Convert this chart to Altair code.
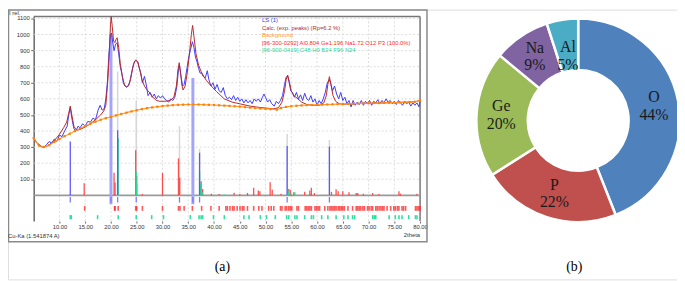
import altair as alt
import pandas as pd

# ---------------- XRD pattern (panel a) ----------------
obs_t = [5.0,5.5,6.0,6.5,7.0,7.5,8.0,8.5,9.0,9.5,10.0,10.5,11.0,11.5,11.8,12.1,12.4,12.8,13.2,13.6,
         14.0,14.5,15.0,15.5,16.0,16.5,17.0,17.5,17.9,18.3,18.7,19.0,19.3,19.6,19.9,20.1,20.3,20.6,20.9,21.2,
         21.5,21.8,22.1,22.4,22.7,23.0,23.3,23.6,24.0,24.4,24.8,25.2,25.5,25.8,26.1,26.5,26.9,27.2,27.6,28.0,
         28.4,28.8,29.2,29.6,30.0,30.4,30.8,31.2,31.6,32.0,32.4,32.8,33.1,33.3,33.6,33.9,34.2,34.5,34.8,35.1,
         35.4,35.8,36.1,36.4,36.7,37.0,37.3,37.6,37.9,38.3,38.7,39.0,39.4,39.8,40.2,40.6,41.0,41.4,41.8,42.2,
         42.6,43.0,43.4,43.8,44.2,44.6,45.0,45.4,45.8,46.2,46.6,47.0,47.4,47.8,48.2,48.6,49.0,49.4,49.7,50.0,
         50.4,50.8,51.2,51.7,52.1,52.5,52.9,53.3,53.7,54.0,54.3,54.6,54.9,55.2,55.6,56.0,56.4,56.8,57.2,57.6,
         58.0,58.4,58.8,59.2,59.6,60.0,60.4,60.8,61.2,61.6,62.0,62.4,62.7,63.0,63.4,63.8,64.2,64.6,65.0,65.4,
         65.8,66.2,66.6,67.0,67.4,67.8,68.2,68.6,69.0,69.4,69.8,70.2,70.6,71.0,71.4,71.8,72.2,72.6,73.0,73.4,
         73.8,74.2,74.6,75.0,75.4,75.8,76.2,76.6,77.0,77.4,77.8,78.2,78.6,79.0,79.4,79.8,80.0]
obs_i = [363,330,318,305,300,315,335,325,350,335,375,365,400,430,500,545,480,415,400,430,
         420,445,430,460,455,480,470,530,560,530,540,600,700,880,1000,1010,960,900,940,950,
         880,800,760,700,680,675,680,700,760,820,840,830,790,760,700,740,680,620,640,610,
         630,600,620,605,620,600,590,580,600,590,610,680,780,810,740,680,690,740,800,860,
         900,955,920,860,830,790,760,760,740,730,775,720,680,700,660,690,650,640,670,620,
         600,610,595,620,590,610,585,600,575,595,575,590,570,600,585,600,580,610,630,610,
         580,595,570,555,585,570,590,620,690,735,740,700,650,640,610,640,600,625,590,635,
         600,590,620,580,600,560,590,570,600,640,700,720,690,650,680,630,600,640,590,610,
         570,590,550,590,560,580,565,590,560,585,570,590,560,585,575,595,570,590,575,600,
         580,590,570,585,565,590,575,560,585,570,580,555,575,560,575,550,590]

calc_t = [5.0,5.5,6.0,6.5,7.0,7.5,8.0,9.0,10.0,10.8,11.4,11.8,12.1,12.4,12.8,13.3,14.0,15.0,16.0,17.0,
          18.0,18.6,19.0,19.4,19.7,19.9,20.05,20.25,20.5,20.75,21.0,21.2,21.5,21.8,22.2,22.6,23.0,23.4,23.8,24.2,
          24.6,24.9,25.2,25.6,26.0,26.5,27.0,27.5,28.0,28.8,29.5,30.5,31.5,32.2,32.7,33.0,33.25,33.5,33.8,34.0,
          34.4,34.8,35.2,35.6,35.85,36.1,36.5,37.0,37.5,38.0,38.5,39.4,40.5,42.0,43.5,45.2,47.0,48.5,50.0,51.5,
          52.5,53.2,53.7,54.0,54.3,54.6,55.0,55.5,56.1,57.0,58.0,59.0,60.5,61.3,61.8,62.1,62.4,62.7,63.1,63.6,
          64.3,65.0,66.0,68.0,70.0,72.0,74.0,76.0,78.0,79.0,80.0]
calc_i = [356,330,312,302,300,305,315,340,380,420,455,510,555,500,430,405,410,425,445,470,
          500,525,560,720,900,1060,1112,1050,960,950,970,980,920,820,740,690,672,680,720,790,
          835,842,830,780,720,680,655,640,615,590,585,585,590,610,680,780,825,760,680,655,
          680,760,870,1000,1057,990,880,810,770,740,715,682,645,600,580,568,555,548,543,538,
          545,580,650,720,748,710,650,620,605,580,565,560,560,575,620,690,738,690,620,585,
          570,566,569,571,573,574,576,578,580,582,590]

bg_t = [5,6,7,8,9,10,11,12,13,14,15,16,17,18,19,20,21,22,23,24,25,26,27,28,29,30,31,32,33,34,35,36,37,38,39,40,
        41,42,43,44,45,46,47,48,49,50,51,52.2,53,54,55,56,57,58,59,60,61,62,63,64,65,66,67,68,69,70,71,72,73,
        74,75,76,77,78,79,80]
bg_i = [356,310,301,312,332,350,368,383,400,416,431,445,458,470,480,487,497,506,514,522,529,536,542,547,551,555,
        558,561,563,564,565,565,565,564,563,562,560,558,556,554,552,549,546,543,540,538,536,533,543,550,554,557,
        559,561,562,563,564,565,566,567,568,569,570,571,572,573,574,574,575,576,577,578,579,580,582,590]

# stick patterns
ls_strong_t = [20.0, 35.9]
ls_strong_h = [1000, 730]
ls_t = [12.1, 21.3, 37.2, 54.2, 62.4]
ls_h = [335, 405, 265, 307, 303]
ls_row_t = [12.1, 20.0, 21.3, 24.9, 33.3, 35.9, 37.2, 54.2, 62.4]
peak_t = [21.3, 24.9, 33.3, 37.2, 54.2, 62.4]
peak_h = [770, 590, 430, 290, 381, 344]

red_t = [14.8,20.6,20.8,24.8,25.0,26.1,30.0,33.1,33.35,37.5,37.8,39.5,41.0,43.9,45.0,46.5,47.7,48.6,48.9,50.9,
         51.3,53.0,54.5,54.8,55.5,57.6,58.6,58.9,59.5,62.8,63.7,64.1,65.0,66.2,67.6,67.9,69.0,70.8,72.0,75.9,
         76.2,79.4]
red_h = [75,140,80,280,120,8,140,230,110,88,40,10,8,16,8,15,47,30,25,82,
         35,10,40,35,20,22,30,47,15,22,38,25,25,20,15,15,10,15,8,25,
         10,10]
green_t = [12.1, 21.4, 24.9, 25.0, 37.2, 37.4, 37.7, 42.0, 54.5, 55.0, 55.7]
green_h = [5, 355, 150, 75, 150, 75, 20, 5, 30, 10, 20]

red_row_t = [14.9,20.7,20.8,21.4,24.8,25.0,26.1,30.0,33.1,33.4,34.2,35.8,37.6,39.4,41.0,42.3,42.6,43.1,43.6,43.9,
             44.5,45.05,45.5,45.8,46.5,47.7,48.7,49.3,50.6,51.1,51.6,52.9,53.2,53.8,54.1,54.5,54.8,55.1,56.1,56.4,
             57.7,58.0,58.3,58.6,58.9,59.6,59.9,60.2,60.5,61.5,62.1,62.5,62.8,63.1,63.4,63.7,64.1,64.4,64.7,65.0,
             65.3,66.0,66.9,67.6,67.9,68.2,68.5,68.9,69.2,69.8,70.1,70.5,70.8,71.4,71.7,72.05,72.4,72.7,73.0,73.6,
             74.3,74.9,75.2,75.6,75.9,76.5,76.8,77.2,79.1,79.4,79.7,80.0]
green_row_t = [12.1,12.3,17.4,21.4,24.9,27.9,30.2,35.4,37.1,37.5,37.8,39.9,42.0,45.8,46.8,49.0,50.2,51.9,54.1,54.5,
               55.7,56.1,57.6,58.9,59.3,60.9,62.1,63.7,65.2,66.0,66.9,67.3,70.8,71.1,71.4,74.0,75.2,75.9,76.5,77.8,
               79.1,79.4]

ROW_LS = (-10, -45)
ROW_RED = (-66, -96)
ROW_GREEN = (-123, -148)
grid_x = [10,15,20,25,30,35,40,45,50,55,60,65,70,75]
grid_y = [100,200,300,400,500,600,700,800,900,1000,1100]
x_ticks = [10,15,20,25,30,35,40,45,50,55,60,65,70,75,80]
X_DOM = [5, 80]
Y_DOM = [-160, 1112]

legend_lines = [
    ("LS (1)", "#3b3bff"),
    ("Calc. (exp. peaks) (Rp=6.2 %)", "#b02a2a"),
    ("Background", "#ff9a2e"),
    ("[96-300-0292] Al0.804 Ge1.196 Na1.72 O12 P3  (100.0%)", "#ff2a2a"),
    ("[96-900-0419] C48 H0 B24 F96 N24", "#2ed89a"),
]

# ---------------- Composition donut (panel b) ----------------
elements = ["O", "P", "Ge", "Na", "Al"]
percents = [44, 22, 20, 9, 5]
el_colors = ["#4F81BD", "#C0504D", "#9BBB59", "#8064A2", "#4BACC6"]

W, H = 677, 273
FONT = "Liberation Sans"
xs = alt.Scale(domain=X_DOM, range=[26, 417], nice=False, zero=False)
ys = alt.Scale(domain=Y_DOM, range=[214, 7], nice=False, zero=False)
x_axis = alt.Axis(values=x_ticks, format=".2f", labelFontSize=5.9, labelFont=FONT, labelColor="#333",
                  tickSize=2, tickColor="#666", domain=False, grid=False, offset=-(H - 214),
                  labelPadding=1, title=None, labelFlush=False, labelOverlap=False)
y_axis = alt.Axis(values=grid_y, labels=False, tickSize=3, tickColor="#666", domainColor="#666",
                  domainWidth=1.5, grid=False, offset=-26, title=None)


def X(f="t"):
    return alt.X(f"{f}:Q", scale=xs, axis=x_axis)


def Y(f="i"):
    return alt.Y(f"{f}:Q", scale=ys, axis=y_axis)


layers = []
# grid
layers.append(alt.Chart(pd.DataFrame({"t": grid_x})).mark_rule(color="#d4d4d4", strokeDash=[2, 2], strokeWidth=0.8)
              .encode(x=X(), y=alt.datum(Y_DOM[0]), y2=alt.datum(Y_DOM[1])))
layers.append(alt.Chart(pd.DataFrame({"i": grid_y})).mark_rule(color="#d4d4d4", strokeDash=[2, 2], strokeWidth=0.8)
              .encode(y=Y(), x=alt.datum(X_DOM[0]), x2=alt.datum(X_DOM[1])))
# y tick labels
layers.append(alt.Chart(pd.DataFrame({"i": grid_y})).mark_text(align="right", baseline="middle", fontSize=5.9,
                                                                  font=FONT, color="#333")
              .encode(y=Y(), x=alt.value(22), text=alt.Text("i:Q", format="d")))
# frame of plot area (top & right)
layers.append(alt.Chart(pd.DataFrame({"i": [Y_DOM[1]]})).mark_rule(color="#777", strokeWidth=1.5)
              .encode(y=Y(), x=alt.datum(X_DOM[0]), x2=alt.datum(X_DOM[1])))
layers.append(alt.Chart(pd.DataFrame({"t": [X_DOM[1]]})).mark_rule(color="#777", strokeWidth=1.5)
              .encode(x=X(), y=alt.datum(Y_DOM[0]), y2=alt.datum(Y_DOM[1])))
# zero line
layers.append(alt.Chart(pd.DataFrame({"i": [0]})).mark_rule(color="#9a9a9a", strokeWidth=1.8)
              .encode(y=Y(), x=alt.datum(X_DOM[0]), x2=alt.datum(X_DOM[1])))
# peak search lines
layers.append(alt.Chart(pd.DataFrame({"t": peak_t, "i": peak_h})).mark_rule(color="#d6d6d6", strokeWidth=1.5)
              .encode(x=X(), y=Y(), y2=alt.datum(0)))
# phase sticks
layers.append(alt.Chart(pd.DataFrame({"t": red_t, "i": red_h})).mark_rule(color="#ff3030", strokeWidth=1.3, opacity=0.85)
              .encode(x=X(), y=Y(), y2=alt.datum(0)))
layers.append(alt.Chart(pd.DataFrame({"t": green_t, "i": green_h})).mark_rule(color="#22dd95", strokeWidth=1.3)
              .encode(x=X(), y=Y(), y2=alt.datum(0)))
layers.append(alt.Chart(pd.DataFrame({"t": ls_strong_t, "i": ls_strong_h})).mark_rule(color="#a4a4ff", strokeWidth=3)
              .encode(x=X(), y=Y(), y2=alt.datum(-55)))
layers.append(alt.Chart(pd.DataFrame({"t": ls_t, "i": ls_h})).mark_rule(color="#5a5aff", strokeWidth=1.3)
              .encode(x=X(), y=Y(), y2=alt.datum(0)))
# tick rows under the pattern
layers.append(alt.Chart(pd.DataFrame({"t": ls_row_t})).mark_rule(color="#7a7aff", strokeWidth=1.3)
              .encode(x=X(), y=alt.datum(ROW_LS[0]), y2=alt.datum(ROW_LS[1])))
layers.append(alt.Chart(pd.DataFrame({"t": red_row_t})).mark_rule(color="#ff2020", strokeWidth=1.6, opacity=0.75)
              .encode(x=X(), y=alt.datum(ROW_RED[0]), y2=alt.datum(ROW_RED[1])))
layers.append(alt.Chart(pd.DataFrame({"t": green_row_t})).mark_rule(color="#2ee0a0", strokeWidth=1.6)
              .encode(x=X(), y=alt.datum(ROW_GREEN[0]), y2=alt.datum(ROW_GREEN[1])))
# curves
layers.append(alt.Chart(pd.DataFrame({"t": obs_t, "i": obs_i})).mark_line(color="#3c3cff", strokeWidth=1)
              .encode(x=X(), y=Y()))
layers.append(alt.Chart(pd.DataFrame({"t": calc_t, "i": calc_i})).mark_line(color="#b8282c", strokeWidth=1)
              .encode(x=X(), y=Y()))
bg_df = pd.DataFrame({"t": bg_t, "i": bg_i})
layers.append(alt.Chart(bg_df).mark_line(color="#ff9a33", strokeWidth=1.2).encode(x=X(), y=Y()))
layers.append(alt.Chart(bg_df).mark_point(shape="square", filled=True, size=5, color="#ff7f00", opacity=1)
              .encode(x=X(), y=Y()))

# panel frame
layers.append(alt.Chart(pd.DataFrame({"a": [0]})).mark_rect(fill=None, stroke="#8a8a8a", strokeWidth=1.5)
              .encode(x=alt.value(0.5), x2=alt.value(424), y=alt.value(0.5), y2=alt.value(235)))

# texts of panel a
def label(txt, x, y, color="#333", size=5.9, align="left", font=FONT):
    return alt.Chart(pd.DataFrame({"s": [txt]})).mark_text(
        align=align, baseline="middle", fontSize=size, font=font, color=color
    ).encode(text="s:N", x=alt.value(x), y=alt.value(y))


layers.append(label("I rel.", 1, 3))
layers.append(label("Cu-Ka (1.541874 A)", 0, 229))
layers.append(label("2theta", 417, 228, align="right"))
for k, (txt, col) in enumerate(legend_lines):
    layers.append(label(txt, 257, 11 + k * 7.5, color=col))

# donut
don = pd.DataFrame({"el": elements, "pct": percents, "idx": list(range(len(elements)))})
color_scale = alt.Scale(domain=elements, range=el_colors)
CX, CY = 577, 112
arc = alt.Chart(don).mark_arc(innerRadius=51, outerRadius=103, stroke="white", strokeWidth=2.5).encode(
    theta=alt.Theta("pct:Q", stack=True, scale=alt.Scale(domain=[0, 100])),
    order=alt.Order("idx:Q"),
    color=alt.Color("el:N", scale=color_scale, legend=None),
    x=alt.value(CX), y=alt.value(CY),
)
txt = alt.Chart(don).transform_window(
    cum="sum(pct)", sort=[alt.SortField("idx")], frame=[None, 0]
).transform_calculate(
    mid="datum.cum - datum.pct / 2",
    lab="datum.el + '\\n' + datum.pct + '%'",
    rr="datum.el == 'Al' ? 66 : 78",
).mark_text(lineBreak="\n", font="Liberation Serif", fontSize=16, color="#1a1a1a", lineHeight=18,
            baseline="middle", align="center", dy=-9).encode(
    theta=alt.Theta("mid:Q", stack=False, scale=alt.Scale(domain=[0, 100])),
    radius=alt.Radius("rr:Q", scale=None),
    text="lab:N",
    x=alt.value(CX), y=alt.value(CY),
)
layers += [arc, txt]

layers.append(label("(a)", 217, 261, color="#000", size=14, align="center", font="Liberation Serif"))
layers.append(label("(b)", 573, 261, color="#000", size=14, align="center", font="Liberation Serif"))

chart = alt.layer(*layers).properties(
    width=W, height=H, padding=0, autosize=alt.AutoSizeParams(type="none")
).configure_view(stroke=None).configure(background="white")

chart.save("out.html", embed_options={"renderer": "svg", "actions": False})
